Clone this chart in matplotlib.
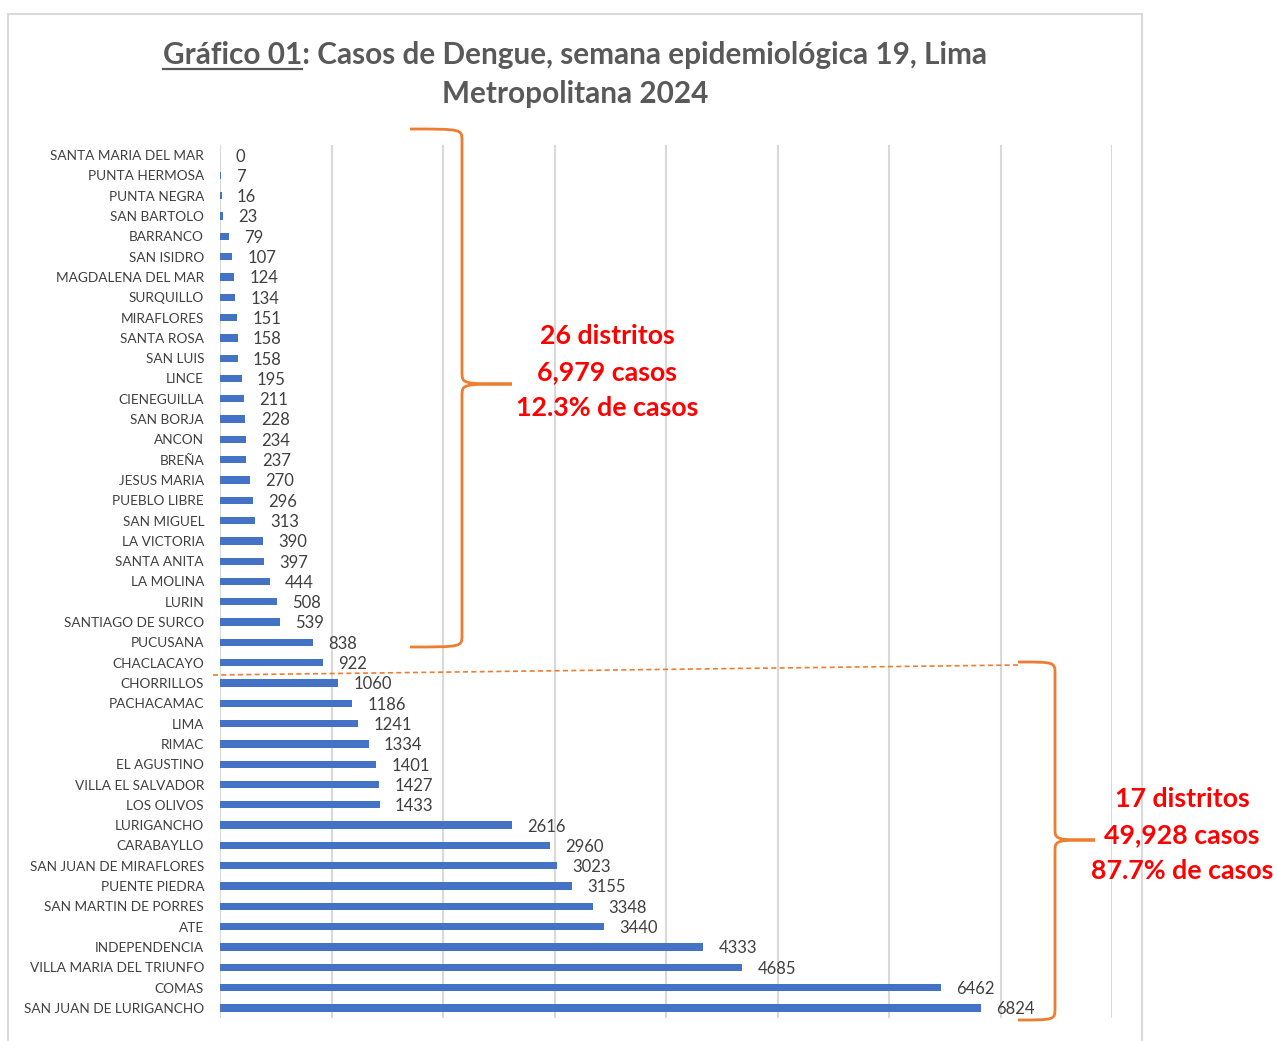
import matplotlib

matplotlib.use("Agg")

import matplotlib.pyplot as plt
from matplotlib.path import Path
from matplotlib.patches import PathPatch, Rectangle

districts = [
    "SANTA MARIA DEL MAR", "PUNTA HERMOSA", "PUNTA NEGRA", "SAN BARTOLO", "BARRANCO",
    "SAN ISIDRO", "MAGDALENA DEL MAR", "SURQUILLO", "MIRAFLORES", "SANTA ROSA",
    "SAN LUIS", "LINCE", "CIENEGUILLA", "SAN BORJA", "ANCON", "BREÑA", "JESUS MARIA",
    "PUEBLO LIBRE", "SAN MIGUEL", "LA VICTORIA", "SANTA ANITA", "LA MOLINA", "LURIN",
    "SANTIAGO DE SURCO", "PUCUSANA", "CHACLACAYO", "CHORRILLOS", "PACHACAMAC", "LIMA",
    "RIMAC", "EL AGUSTINO", "VILLA EL SALVADOR", "LOS OLIVOS", "LURIGANCHO",
    "CARABAYLLO", "SAN JUAN DE MIRAFLORES", "PUENTE PIEDRA", "SAN MARTIN DE PORRES",
    "ATE", "INDEPENDENCIA", "VILLA MARIA DEL TRIUNFO", "COMAS", "SAN JUAN DE LURIGANCHO",
]
cases = [
    0, 7, 16, 23, 79, 107, 124, 134, 151, 158, 158, 195, 211, 228, 234, 237, 270,
    296, 313, 390, 397, 444, 508, 539, 838, 922, 1060, 1186, 1241, 1334, 1401, 1427,
    1433, 2616, 2960, 3023, 3155, 3348, 3440, 4333, 4685, 6462, 6824,
]
group_text_low = ["26 distritos", "6,979 casos", "12.3% de casos"]
group_text_high = ["17 distritos", "49,928 casos", "87.7% de casos"]

W, H = 1277, 1041
FONT = "Lato"
ORANGE = "#ED7D31"

fig = plt.figure(figsize=(W / 100, H / 100), dpi=100)
fig.patch.set_facecolor("white")


def fx(px):
    return px / W


def fy(py):
    return 1 - py / H


# outer chart border
fig.patches.append(Rectangle((fx(8), fy(1060)), fx(1142) - fx(8), fy(14) - fy(1060),
                             transform=fig.transFigure, fill=False,
                             edgecolor="#D9D9D9", linewidth=1.5))

ax = fig.add_axes([fx(220), fy(1018), fx(1112) - fx(220), fy(145) - fy(1018)])
y = list(range(len(districts)))
ax.barh(y, cases, height=0.36, color="#4472C4")
ax.set_xlim(0, 8000)
ax.set_ylim(len(districts) - 0.5, -0.5)
ax.set_xticks(range(0, 8001, 1000))
ax.xaxis.grid(True, color="#D9D9D9", linewidth=1.5)
ax.set_axisbelow(True)
ax.tick_params(axis="x", length=0, labelbottom=False)
ax.tick_params(axis="y", length=0, pad=11.5)
ax.set_yticks(y)
ax.set_yticklabels(districts, fontsize=9.8, color="#404040", family=FONT)
for spine in ax.spines.values():
    spine.set_visible(False)

for yi, v in zip(y, cases):
    ax.annotate(str(v), (v, yi), xytext=(11, -1), textcoords="offset points",
                ha="left", va="center", fontsize=12, color="#404040", family=FONT)

# title with underlined prefix
line1 = "Gráfico 01: Casos de Dengue, semana epidemiológica 19, Lima"
t1 = fig.text(fx(575), fy(55), line1, ha="center", va="center", fontsize=21.4,
              fontweight="bold", color="#595959", family=FONT)
fig.text(fx(575), fy(94), "Metropolitana 2024", ha="center", va="center", fontsize=21.4,
         fontweight="bold", color="#595959", family=FONT)
renderer = fig.canvas.get_renderer()
bb = t1.get_window_extent(renderer)
probe = fig.text(0, 0, "Gráfico 01", fontsize=21.4, fontweight="bold", family=FONT)
pw = probe.get_window_extent(renderer).width
probe.remove()
fig.add_artist(plt.Line2D([bb.x0 / W, (bb.x0 + pw) / W], [fy(69), fy(69)],
                          transform=fig.transFigure, color="#595959", linewidth=1.6))


def brace(x_end, x_spine, x_tip, y_top, y_mid, y_bot):
    r = 12
    verts = [
        (x_end, y_top),
        (x_spine, y_top), (x_spine, y_top), (x_spine, y_top + r),
        (x_spine, y_mid - r),
        (x_spine, y_mid), (x_spine, y_mid), (x_tip, y_mid),
        (x_spine, y_mid), (x_spine, y_mid), (x_spine, y_mid + r),
        (x_spine, y_bot - r),
        (x_spine, y_bot), (x_spine, y_bot), (x_end, y_bot),
    ]
    codes = [Path.MOVETO, Path.CURVE4, Path.CURVE4, Path.CURVE4, Path.LINETO,
             Path.CURVE4, Path.CURVE4, Path.CURVE4, Path.CURVE4, Path.CURVE4, Path.CURVE4,
             Path.LINETO, Path.CURVE4, Path.CURVE4, Path.CURVE4]
    pts = [(fx(a), fy(b)) for a, b in verts]
    fig.patches.append(PathPatch(Path(pts, codes), transform=fig.transFigure,
                                 fill=False, edgecolor=ORANGE, linewidth=2))


brace(410, 462, 512, 129, 384, 647)
brace(1018, 1055, 1095, 662, 840, 1020)

fig.add_artist(plt.Line2D([fx(213), fx(1018)], [fy(675), fy(665)], transform=fig.transFigure,
                          color=ORANGE, linewidth=1.2, linestyle=(0, (3, 2))))

for i, s in enumerate(group_text_low):
    fig.text(fx(607), fy(336 + 36 * i), s, ha="center", va="center", fontsize=19.3,
             fontweight="bold", color="#FF0000", family=FONT)
for i, s in enumerate(group_text_high):
    fig.text(fx(1182), fy(799 + 36 * i), s, ha="center", va="center", fontsize=19.3,
             fontweight="bold", color="#FF0000", family=FONT)

fig.savefig("out.png", dpi=100)
